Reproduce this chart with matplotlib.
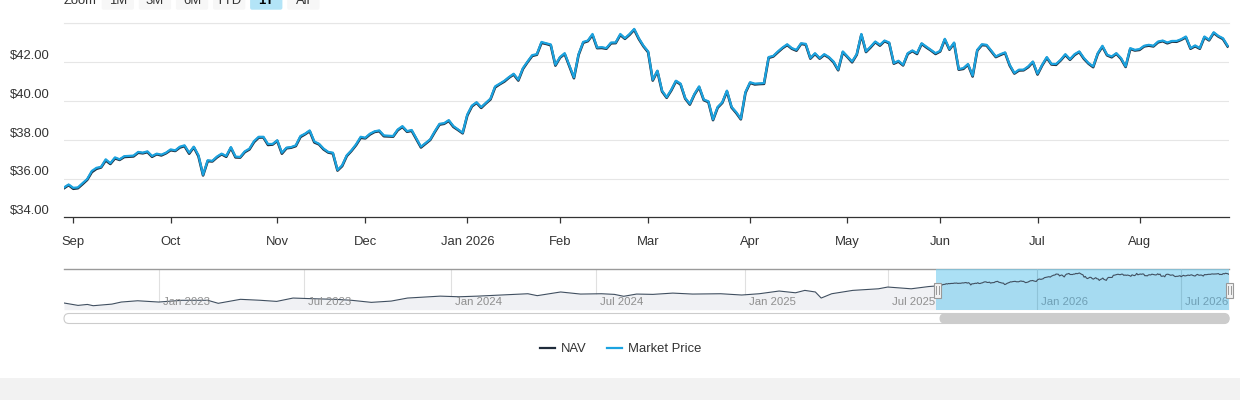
import numpy as np
import pandas as pd
import matplotlib
matplotlib.use("Agg")
import matplotlib.pyplot as plt
import matplotlib.transforms as mtransforms
from matplotlib.patches import FancyBboxPatch, Rectangle
from matplotlib.lines import Line2D

plt.rcParams['font.family'] = ['Liberation Sans', 'DejaVu Sans']

# ---------------- data ----------------
HOLIDAYS = ['2022-11-24', '2022-12-26',
            '2023-01-02', '2023-01-16', '2023-02-20', '2023-04-07', '2023-05-29', '2023-06-19',
            '2023-07-04', '2023-09-04', '2023-11-23', '2023-12-25',
            '2024-01-01', '2024-01-15', '2024-02-19', '2024-03-29', '2024-05-27', '2024-06-19',
            '2024-07-04', '2024-09-02', '2024-11-28', '2024-12-25',
            '2025-01-01', '2025-01-09', '2025-01-20', '2025-02-17', '2025-04-18', '2025-05-26',
            '2025-06-19', '2025-07-04', '2025-09-01', '2025-11-27', '2025-12-25',
            '2026-01-01', '2026-01-19', '2026-02-16', '2026-04-03', '2026-05-25', '2026-06-19',
            '2026-07-03']
RANGE_START = '2025-08-28'
RANGE_END = '2026-08-28'
NAVIGATOR_START = '2022-09-07'

# trading-session number since RANGE_START (0 = 2025-08-28)
session = [0, 1, 2, 3, 4, 5, 6, 7, 8, 9, 10, 11, 12, 13, 15, 16, 17, 18, 19, 20,
           21, 22, 23, 24, 25, 26, 27, 28, 29, 30, 31, 32, 33, 34, 35, 36, 37, 38, 39, 40,
           41, 42, 43, 44, 45, 46, 47, 48, 49, 50, 51, 52, 53, 54, 55, 56, 57, 58, 59, 60,
           61, 62, 63, 64, 65, 66, 67, 68, 69, 71, 72, 73, 74, 75, 77, 79, 80, 81, 82, 83,
           84, 85, 86, 87, 88, 89, 90, 91, 92, 93, 94, 95, 96, 97, 98, 99, 100, 101, 102, 103,
           104, 105, 106, 107, 108] + list(range(110, 252))

market_price = [
    35.54, 35.69, 35.52, 35.54, 35.76, 35.97, 36.39, 36.55, 36.60, 36.99, 36.79, 37.09, 36.99, 37.15, 37.18,
    37.37, 37.33, 37.40, 37.16, 37.28, 37.23, 37.33, 37.50, 37.45, 37.64, 37.71, 37.33, 37.64, 37.20, 36.19,
    36.94, 36.91, 37.13, 37.28, 37.16, 37.62, 37.13, 37.11, 37.40, 37.54, 37.93, 38.15, 38.15, 37.78, 37.78,
    37.97, 37.33, 37.59, 37.62, 37.71, 38.19, 38.31, 38.48, 37.91, 37.79, 37.54, 37.37, 37.33, 36.44, 36.68,
    37.20, 37.45, 37.76, 38.15, 38.10, 38.31, 38.43, 38.48, 38.22, 38.19, 38.53, 38.70, 38.44, 38.50, 37.64,
    38.02, 38.44, 38.82, 38.85, 39.01, 38.70, 38.53, 38.36, 39.30, 39.76, 39.93, 39.68, 39.90, 40.12, 40.75,
    40.89, 41.04, 41.23, 41.40, 41.09, 41.69, 42.03, 42.36, 42.41, 43.04, 42.97, 42.91, 41.86, 42.26, 42.46,
    41.21, 42.41, 43.04, 43.11, 43.45, 42.75, 42.77, 42.72, 43.01, 43.01, 43.45, 43.23, 43.45, 43.71, 43.23,
    42.84, 42.55, 41.09, 41.56, 40.53, 40.19, 40.58, 41.04, 40.89, 40.15, 39.85, 40.36, 40.75, 40.07, 39.98,
    39.04, 39.69, 39.93, 40.53, 39.69, 39.42, 39.08, 40.46, 40.96, 40.89, 40.90, 40.92, 42.26, 42.32, 42.55,
    42.75, 42.92, 42.72, 42.63, 42.97, 42.94, 42.21, 42.46, 42.21, 42.41, 42.26, 42.03, 41.61, 42.55, 42.29,
    42.03, 42.41, 43.45, 42.55, 42.80, 43.06, 42.89, 43.11, 43.01, 41.95, 42.07, 41.86, 42.46, 42.60, 42.46,
    42.97, 42.80, 42.63, 42.46, 42.58, 43.20, 42.67, 43.01, 41.64, 41.69, 41.90, 41.30, 42.63, 42.92, 42.89,
    42.60, 42.29, 42.41, 42.50, 41.86, 41.44, 41.61, 41.61, 41.78, 42.03, 41.40, 41.86, 42.26, 41.91, 41.90,
    42.12, 42.41, 42.15, 42.41, 42.55, 42.21, 41.95, 41.78, 42.46, 42.84, 42.38, 42.29, 42.46, 42.21, 41.78,
    42.72, 42.63, 42.67, 42.84, 42.89, 42.84, 43.06, 43.11, 43.01, 43.09, 43.09, 43.18, 43.32, 42.72, 42.86,
    42.72, 43.32, 43.15, 43.54, 43.35, 43.23, 42.84]

nav = [
    35.50, 35.66, 35.47, 35.50, 35.71, 35.93, 36.33, 36.50, 36.57, 36.93, 36.75, 37.04, 36.96, 37.11, 37.14,
    37.33, 37.30, 37.36, 37.12, 37.25, 37.19, 37.30, 37.46, 37.42, 37.60, 37.67, 37.28, 37.61, 37.15, 36.16,
    36.90, 36.88, 37.09, 37.25, 37.12, 37.58, 37.09, 37.08, 37.36, 37.50, 37.88, 38.11, 38.12, 37.73, 37.75,
    37.94, 37.28, 37.56, 37.59, 37.67, 38.14, 38.28, 38.44, 37.86, 37.76, 37.50, 37.34, 37.29, 36.41, 36.64,
    37.16, 37.42, 37.72, 38.10, 38.07, 38.27, 38.40, 38.44, 38.18, 38.16, 38.49, 38.66, 38.41, 38.46, 37.60,
    37.99, 38.40, 38.78, 38.82, 38.97, 38.66, 38.50, 38.33, 39.25, 39.72, 39.90, 39.64, 39.87, 40.08, 40.70,
    40.86, 41.00, 41.20, 41.36, 41.05, 41.65, 42.00, 42.32, 42.38, 42.99, 42.94, 42.87, 41.82, 42.23, 42.42,
    41.17, 42.37, 43.00, 43.08, 43.40, 42.72, 42.73, 42.69, 42.97, 42.98, 43.40, 43.20, 43.41, 43.67, 43.19,
    42.81, 42.51, 41.05, 41.53, 40.49, 40.16, 40.54, 41.01, 40.85, 40.12, 39.81, 40.33, 40.71, 40.04, 39.94,
    39.01, 39.65, 39.90, 40.49, 39.66, 39.38, 39.05, 40.42, 40.93, 40.85, 40.87, 40.88, 42.22, 42.29, 42.51,
    42.72, 42.88, 42.69, 42.59, 42.94, 42.90, 42.18, 42.42, 42.18, 42.37, 42.23, 41.99, 41.58, 42.51, 42.26,
    41.99, 42.38, 43.41, 42.52, 42.76, 43.03, 42.85, 43.08, 42.97, 41.92, 42.03, 41.83, 42.42, 42.57, 42.42,
    42.94, 42.76, 42.60, 42.42, 42.55, 43.16, 42.64, 42.97, 41.61, 41.65, 41.87, 41.26, 42.60, 42.88, 42.86,
    42.56, 42.26, 42.37, 42.47, 41.82, 41.41, 41.57, 41.58, 41.74, 42.00, 41.36, 41.83, 42.22, 41.88, 41.86,
    42.09, 42.37, 42.12, 42.37, 42.52, 42.17, 41.92, 41.74, 42.43, 42.80, 42.35, 42.25, 42.43, 42.17, 41.75,
    42.68, 42.60, 42.63, 42.81, 42.85, 42.81, 43.02, 43.08, 42.97, 43.06, 43.05, 43.15, 43.28, 42.69, 42.82,
    42.69, 43.28, 43.12, 43.50, 43.32, 43.19, 42.81]

# longer history shown only in the navigator
history_dates = ['2022-09-07', '2022-09-23', '2022-10-05', '2022-10-12', '2022-11-03', '2022-11-15',
                 '2022-12-06', '2023-01-03', '2023-02-01', '2023-03-06', '2023-03-17', '2023-04-14',
                 '2023-05-09', '2023-05-30', '2023-06-20', '2023-07-13', '2023-08-10', '2023-08-30',
                 '2023-09-25', '2023-10-18', '2023-11-07', '2023-11-28', '2023-12-18', '2024-01-11',
                 '2024-02-05', '2024-02-27', '2024-03-13', '2024-04-08', '2024-04-18', '2024-05-16',
                 '2024-06-11', '2024-07-09', '2024-07-24', '2024-08-05', '2024-08-20', '2024-09-10',
                 '2024-10-03', '2024-10-28', '2024-12-02', '2024-12-27', '2025-01-22', '2025-02-14',
                 '2025-03-07', '2025-03-19', '2025-04-01', '2025-04-08', '2025-04-22', '2025-05-16',
                 '2025-06-18', '2025-07-01', '2025-07-30', '2025-08-20']
history_values = [24.9, 23.4, 24.0, 23.2, 24.2, 25.5,
                  26.3, 25.5, 26.6, 26.6, 24.7, 27.2,
                  26.6, 25.9, 28.0, 27.6, 27.2, 26.6,
                  25.3, 26.1, 28.0, 28.6, 29.2, 28.8,
                  29.2, 29.7, 30.1, 30.7, 29.5, 31.8,
                  30.5, 30.7, 30.3, 29.1, 30.5, 30.3,
                  31.1, 30.5, 30.7, 29.9, 30.7, 32.4,
                  31.3, 32.8, 31.8, 28.0, 30.7, 32.8,
                  33.8, 34.9, 33.8, 35.2]

y_ticks = [34, 36, 38, 40, 42]
y_grid = [36, 38, 40, 42, 44]
zoom_buttons = ['1M', '3M', '6M', 'YTD', '1Y', 'All']
selected_button = '1Y'
series_names = ['NAV', 'Market Price']

# ---------------- style ----------------
NAV_COLOR = '#1f2c3b'
MKT_COLOR = '#1ba3e0'
TEXT = '#333333'
GRID = '#e6e6e6'
W, H = 1240, 400

hol = np.array(HOLIDAYS, dtype='datetime64[D]')
cal = pd.bdate_range(RANGE_START, RANGE_END, freq='C', holidays=HOLIDAYS)

fig = plt.figure(figsize=(W / 100, H / 100), dpi=100)
fig.patch.set_facecolor('white')

def px_axes(l, t, r, b):
    return [l / W, (H - b) / H, (r - l) / W, (b - t) / H]

# ---------------- main chart ----------------
ax = fig.add_axes(px_axes(64, 23.3, 1229, 217.3))
ax.plot(session, nav, color=NAV_COLOR, lw=1.9, solid_joinstyle='round', zorder=3)
ax.plot(session, market_price, color=MKT_COLOR, lw=1.6, solid_joinstyle='round', zorder=4)
ax.set_ylim(34, 44)
ax.set_xlim(0, 251.3)
for s in ['top', 'right', 'left']:
    ax.spines[s].set_visible(False)
ax.spines['bottom'].set_color(TEXT)
ax.spines['bottom'].set_linewidth(0.9)
ax.set_yticks(y_grid)
ax.yaxis.grid(True, color=GRID, lw=0.8)
ax.tick_params(axis='y', length=0, labelleft=False)
ax.axhline(max(y_grid), color=GRID, lw=0.8, clip_on=False, zorder=0)
ylab_tr = mtransforms.blended_transform_factory(ax.transAxes, ax.transData) + \
    mtransforms.ScaledTranslation(-14 / 100, 6 / 100, fig.dpi_scale_trans)
for v in y_ticks:
    ax.text(0, v, f"${v:.2f}", transform=ylab_tr, ha='right', va='center',
            fontsize=9.4, color=TEXT)

months = pd.Series(np.arange(len(cal)), index=cal)
first_idx = months.groupby([cal.year, cal.month]).first()
tick_pos, tick_lab = [], []
for (yr, mo), idx in first_idx.items():
    d = cal[idx]
    if d.day > 5:
        continue
    tick_pos.append(idx)
    tick_lab.append(d.strftime('%b %Y') if mo == 1 else d.strftime('%b'))
ax.set_xticks(tick_pos)
ax.set_xticklabels(tick_lab, fontsize=9.4, color=TEXT)
ax.tick_params(axis='x', length=4, width=0.9, color=TEXT, pad=9.5)

# ---------------- navigator ----------------
start = np.datetime64(NAVIGATOR_START, 'D')
main_dates = cal[session].values.astype('datetime64[D]')
all_dates = np.concatenate([np.array(history_dates, dtype='datetime64[D]'), main_dates])
all_vals = list(history_values) + list(market_price)
nx = np.busday_count(start, all_dates, holidays=hol)
n_end = np.busday_count(start, np.datetime64(RANGE_END, 'D'), holidays=hol)
sel_start = np.busday_count(start, np.datetime64(RANGE_START, 'D'), holidays=hol)

axn = fig.add_axes(px_axes(64, 269, 1229, 309.7))
axn.set_xlim(0, n_end)
axn.set_ylim(20.7, 46.2)
axn.fill_between(nx, all_vals, 20.7, color='#f0f1f4', lw=0, zorder=1)
axn.plot(nx, all_vals, color='#404f60', lw=0.8, zorder=4)
for s in ['right', 'left', 'bottom']:
    axn.spines[s].set_visible(False)
axn.spines['top'].set_color('#9a9a9a')
axn.spines['top'].set_linewidth(1.0)
axn.set_xticks([]); axn.set_yticks([])
lab_tr = mtransforms.blended_transform_factory(axn.transData, axn.transAxes) + \
    mtransforms.ScaledTranslation(1 / 100, 0, fig.dpi_scale_trans)
for yr in range(2023, 2027):
    for mo, name in [(1, 'Jan'), (7, 'Jul')]:
        d = np.datetime64(f'{yr}-{mo:02d}-01', 'D')
        p = np.busday_count(start, d, holidays=hol)
        inside = p >= sel_start
        axn.axvline(p, color='#8fc3d8' if inside else '#e0e0e0', lw=0.8,
                    zorder=3.5 if inside else 0.5)
        axn.text(p, 0.19, f' {name} {yr}', transform=lab_tr, ha='left', va='center',
                 fontsize=8.2, color='#6f9fb5' if inside else '#8f8f8f', zorder=5)
axn.axvspan(sel_start, n_end, color='#7fd0f0', alpha=0.65, lw=0, zorder=3)

# ---------------- decorations overlay (pixel coords) ----------------
ov = fig.add_axes([0, 0, 1, 1])
ov.set_xlim(0, W); ov.set_ylim(H, 0)
ov.axis('off')
ov.patch.set_alpha(0)

# navigator handles
for cx in (937.3, 1229.3):
    ov.add_patch(Rectangle((cx - 3.8, 282.5), 7.6, 15, facecolor='#f2f2f2',
                           edgecolor='#999999', lw=0.8, zorder=5))
    for dx in (-1.2, 1.2):
        ov.add_line(Line2D([cx + dx, cx + dx], [286, 294], color='#999999', lw=0.7, zorder=6))

# scrollbar
ov.add_patch(FancyBboxPatch((64, 313.5), 1165, 10, boxstyle='round,pad=0,rounding_size=5',
                            facecolor='white', edgecolor='#cccccc', lw=0.8))
ov.add_patch(FancyBboxPatch((939.5, 313.5), 290, 10, boxstyle='round,pad=0,rounding_size=5',
                            facecolor='#cccccc', edgecolor='none'))

# zoom buttons (partly above the top edge, as in the original)
ov.text(64, 4, 'Zoom', fontsize=9.4, color=TEXT, ha='left', va='baseline')
bx = 101.7
for b in zoom_buttons:
    sel = (b == selected_button)
    ov.add_patch(FancyBboxPatch((bx, -13), 32.3, 22.7, boxstyle='round,pad=0,rounding_size=2',
                                facecolor='#b3e4f7' if sel else '#f7f7f7', edgecolor='none'))
    ov.text(bx + 16.15, 4, b, fontsize=9.4, color='#000000' if sel else TEXT,
            fontweight='bold' if sel else 'normal', ha='center', va='baseline')
    bx += 37.1

# legend
leg_y = 348.3
ov.add_line(Line2D([540, 555], [leg_y, leg_y], color=NAV_COLOR, lw=1.6))
ov.text(561, leg_y + 0.5, series_names[0], fontsize=9.4, color=TEXT, ha='left', va='center')
ov.add_line(Line2D([607, 622], [leg_y, leg_y], color=MKT_COLOR, lw=1.6))
ov.text(628, leg_y + 0.5, series_names[1], fontsize=9.4, color=TEXT, ha='left', va='center')

# bottom band
ov.add_patch(Rectangle((0, 378), W, 22, facecolor='#f2f2f2', edgecolor='none'))

fig.savefig('out.png', dpi=100)
